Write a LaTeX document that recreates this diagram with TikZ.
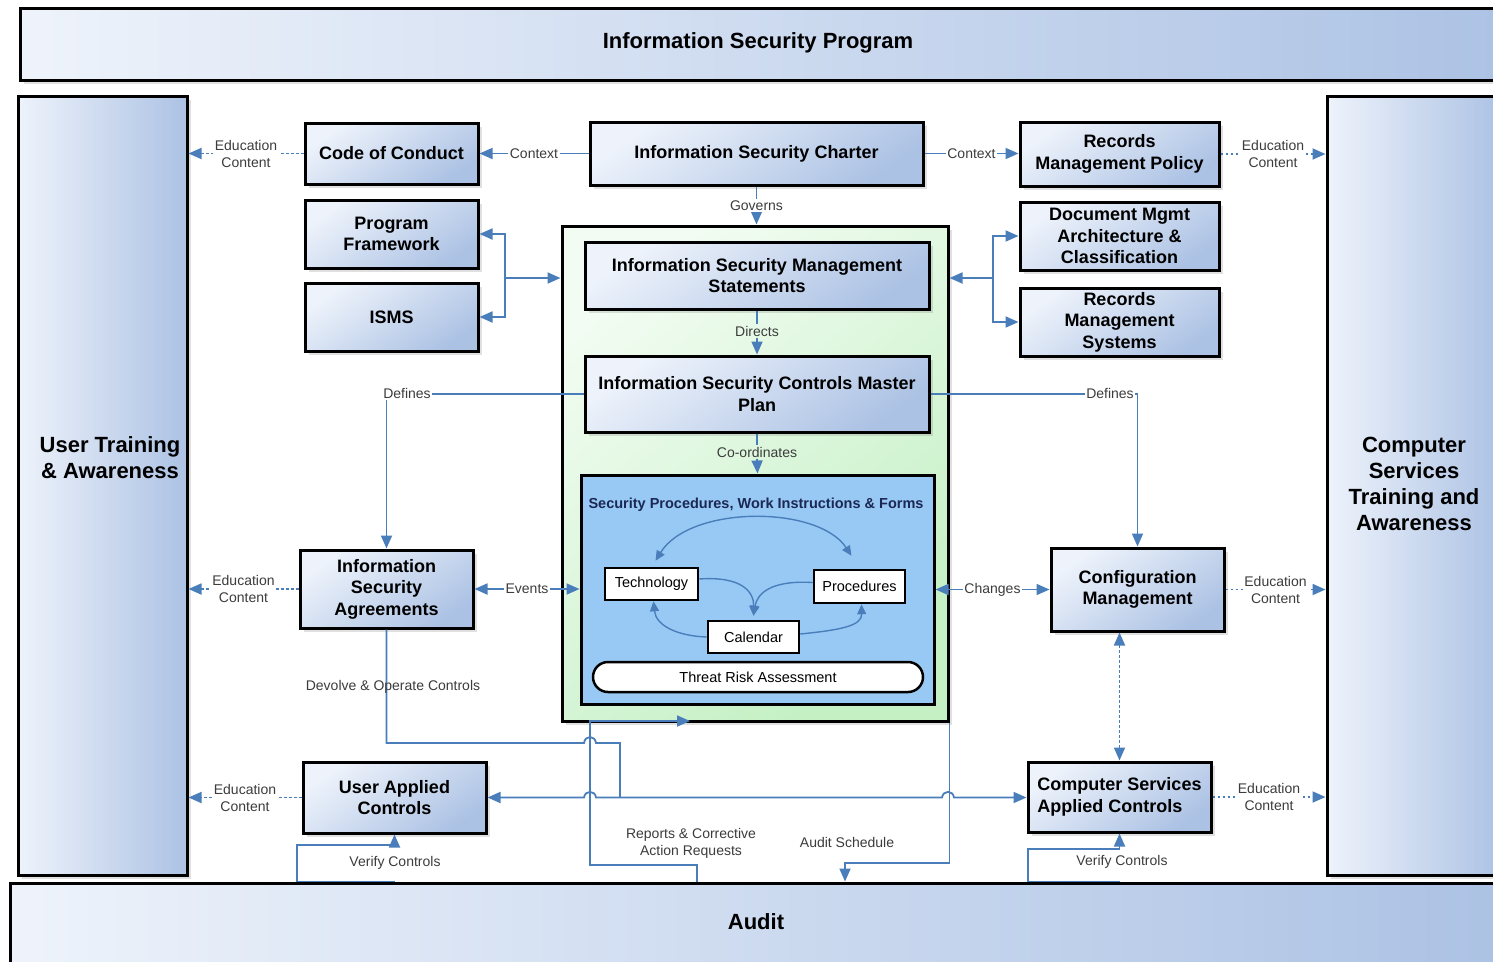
\documentclass[tikz,border=0pt]{standalone}
\usepackage{fontspec}
\setmainfont{Liberation Sans}
\usetikzlibrary{arrows.meta,calc,shadows}

\definecolor{linkblue}{RGB}{74,126,187}
\definecolor{boxlight}{RGB}{238,243,251}
\definecolor{boxdark}{RGB}{172,194,228}
\definecolor{greenlight}{RGB}{242,252,242}
\definecolor{greendark}{RGB}{196,240,196}
\definecolor{procblue}{RGB}{152,201,245}
\definecolor{labelgrey}{RGB}{60,60,60}
\definecolor{titlenavy}{RGB}{28,40,84}

\tikzset{
  softshadow/.style={drop shadow={shadow xshift=4pt,shadow yshift=-4pt,opacity=0.2,fill=black!60}},
  unitbox/.style={draw=black, line width=3pt, softshadow, align=center, inner sep=2pt,
    font=\fontsize{18}{21.5}\selectfont\bfseries,
    top color=boxlight, bottom color=boxdark, shading angle=35},
  band/.style={draw=black, line width=3pt, softshadow,
    left color=boxlight, right color=boxdark},
  bandtext/.style={font=\fontsize{22}{26}\selectfont\bfseries, align=center},
  innerbox/.style={draw=black, line width=2.5pt, fill=white, inner sep=1pt,
    font=\fontsize{14.5}{17}\selectfont},
  link/.style={draw=linkblue, line width=1.8pt},
  edu/.style={link, dash pattern=on 2.5pt off 2.5pt, ->},
  curl/.style={draw=linkblue, line width=1.4pt, >={Triangle[length=10pt,width=9pt]}},
  lbl/.style={font=\fontsize{14}{17}\selectfont, text=labelgrey, align=center, inner sep=1.5pt}
}

\begin{document}
\begin{tikzpicture}[x=1pt, y=-1pt, >={Triangle[length=13pt,width=11pt]}]
\fill[white] (0,0) rectangle (1493,961);
\useasboundingbox (0,0) rectangle (1493,961);

% outer bands
\node[band, minimum width=1500pt, minimum height=72pt] (prog) at (770,44) {};
\node[bandtext] (progtext) at (758,43) {Information Security Program};

\node[band, minimum width=169pt, minimum height=779pt] (utr) at (102.5,485.5) {};
\node[bandtext] (utrtext) at (110,458) {User Training\\\& Awareness};

\node[band, minimum width=174pt, minimum height=779pt] (cst) at (1414,485.5) {};
\node[bandtext] (csttext) at (1414,484) {Computer\\Services\\Training and\\Awareness};

\node[band, minimum width=1492pt, minimum height=92pt] (audit) at (756,929) {};
\node[bandtext] (audittext) at (756,922) {Audit};

% policy level
\node[unitbox, minimum width=173pt, minimum height=61pt] (coc) at (391.5,153.5) {Code of Conduct};
\node[unitbox, minimum width=173pt, minimum height=68pt] (pf) at (391.5,234) {Program\\Framework};
\node[unitbox, minimum width=173pt, minimum height=68pt] (isms) at (391.5,317) {ISMS};
\node[unitbox, minimum width=333pt, minimum height=63pt] (charter) at (756.5,153.5) {Information Security Charter};
\node[unitbox, minimum width=199pt, minimum height=64pt] (rmp) at (1119.5,154) {Records\\Management Policy};
\node[unitbox, minimum width=199pt, minimum height=68pt] (dmac) at (1119.5,236) {Document Mgmt\\Architecture \&\\Classification};
\node[unitbox, minimum width=199pt, minimum height=68pt] (rms) at (1119.5,322) {Records\\Management\\Systems};

% core container
\node[draw=black, line width=3pt, softshadow, minimum width=386pt, minimum height=495pt,
      top color=greenlight, bottom color=greendark, shading angle=40] (core) at (755,473.5) {};
\node[unitbox, minimum width=344pt, minimum height=67pt] (stmt) at (757,275.5) {Information Security Management\\Statements};
\node[unitbox, minimum width=344pt, minimum height=76pt] (plan) at (757,394) {Information Security Controls Master\\Plan};
\node[draw=black, line width=3pt, fill=procblue, minimum width=353pt, minimum height=229pt] (proc) at (757.5,589.5) {};
\node[font=\fontsize{14.5}{17}\selectfont\bfseries, text=titlenavy] (proctitle) at (756,505) {Security Procedures, Work Instructions \& Forms};
\node[innerbox, minimum width=93pt, minimum height=32pt] (tech) at (651.5,584) {Technology};
\node[innerbox, minimum width=91pt, minimum height=33pt] (procs) at (859.5,586.5) {Procedures};
\node[innerbox, minimum width=91pt, minimum height=32pt] (cal) at (753.5,637) {Calendar};
\node[innerbox, rounded corners=15pt, minimum width=330pt, minimum height=30pt] (tra) at (758,677) {Threat Risk Assessment};

% operational level
\node[unitbox, minimum width=173pt, minimum height=78pt] (isa) at (386.5,589) {Information\\Security\\Agreements};
\node[unitbox, minimum width=173pt, minimum height=83pt] (cm) at (1137.5,589.5) {Configuration\\Management};
\node[unitbox, minimum width=183pt, minimum height=71pt] (uac) at (394.5,797.5) {User Applied\\Controls};
\node[unitbox, minimum width=183pt, minimum height=70pt, align=left] (csac) at (1119.5,797) {Computer Services\\Applied Controls};

% context and governance
\draw[link,->] (charter.west) -- (coc.east) node[lbl, midway, fill=white] {Context};
\draw[link,->] (charter.east) -- (charter.east -| rmp.west) node[lbl, midway, fill=white] {Context};
\draw[link,->] (charter.south) -- (charter.south |- core.north) node[lbl, midway, fill=white] {Governs};

\node[lbl] (dirlbl) at (757,331) {Directs};
\draw[link] (stmt.south) -- (dirlbl.north);
\draw[link,->] (dirlbl.south) -- (plan.north);
\node[lbl] (coordlbl) at (757,452) {Co-ordinates};
\draw[link] (plan.south) -- (coordlbl.north);
\draw[link,->] (coordlbl.south) -- (proc.north);

% education content
\draw[edu] (coc.west) -- (coc.west -| utr.east) node[lbl, midway, fill=white] {Education\\Content};
\draw[edu] (isa.west) -- (isa.west -| utr.east) node[lbl, midway, fill=white] {Education\\Content};
\draw[edu] (uac.west) -- (uac.west -| utr.east) node[lbl, midway, fill=white] {Education\\Content};
\draw[edu] (rmp.east) -- (rmp.east -| cst.west) node[lbl, midway, fill=white] {Education\\Content};
\draw[edu] (cm.east) -- (cm.east -| cst.west) node[lbl, midway, fill=white] {Education\\Content};
\draw[edu] (csac.east) -- (csac.east -| cst.west) node[lbl, midway, fill=white] {Education\\Content};

% framework brackets
\coordinate (jl) at (505,278);
\draw[link,->] (jl) -- (jl -| core.west);
\draw[link,->] (jl) |- (pf.east);
\draw[link,->] (jl) |- (isms.east);
\coordinate (jr) at (993,278);
\draw[link,->] (jr) -- (jr -| core.east);
\draw[link,->] (jr) |- (dmac.west);
\draw[link,->] (jr) |- (rms.west);

% defines
\draw[link,->] (plan.west) -| (isa.north);
\node[lbl, fill=white] (defl) at (407,393) {Defines};
\draw[link,->] (plan.east) -| (cm.north);
\node[lbl, fill=white] (defr) at (1110,393) {Defines};

% events and changes
\draw[link,<->] (isa.east) -- (isa.east -| proc.west) node[lbl, midway, fill=white] {Events};
\draw[link,<->] (proc.east) -- (proc.east -| cm.west) node[lbl, midway, fill=white] {Changes};
\draw[link, dash pattern=on 2.5pt off 2.5pt, <->] (csac.north |- cm.south) -- (csac.north);

% procedure cycle
\draw[curl,<->] ($(tech.north)+(4,-6)$) .. controls (690,505) and (818,505) .. ($(procs.north)+(-8,-13)$);
\draw[curl,->] ($(tech.east)+(0,-5)$) .. controls (742,576) and (754,592) .. ($(cal.north)+(0,-4)$);
\draw[curl,->] ($(procs.west)+(0,-4)$) .. controls (770,580) and (757,594) .. ($(cal.north)+(0,-4)$);
\draw[curl,->] (cal.west) .. controls (678,636) and (656,626) .. ($(tech.south)+(2,0)$);
\draw[curl,->] ($(cal.east)+(0,-3)$) .. controls (840,630) and (862,626) .. ($(procs.south)+(2,0)$);

% verification
\coordinate (vl) at (297,845);
\draw[link,->] (uac.south |- audit.north) -| (vl) -- (vl -| uac.south) -- (uac.south);
\node[lbl] (verl) at (395,863) {Verify Controls};
\coordinate (vr) at (1028,849);
\draw[link,->] (csac.south |- audit.north) -| (vr) -- (vr -| csac.south) -- (csac.south);
\node[lbl] (verr) at (1122,862) {Verify Controls};

% devolve and operate controls
\coordinate (dv) at (620,743);
\draw[link] (isa.south) |- (584,743) .. controls (585,735) and (595,735) .. (596,743) -- (dv) -- (dv |- uac.east);
\draw[link,<->] (uac.east) -- (584,797.5) .. controls (585,790) and (595,790) .. (596,797.5)
   -- (942,797.5) .. controls (943,790) and (953,790) .. (954,797.5) -- (954,797.5 -| csac.west);
\node[lbl] (devlbl) at (393,687) {Devolve \& Operate Controls};

% reports and audit schedule
\coordinate (rep) at (697,865);
\coordinate (repend) at (690,721);
\draw[link,->] (rep |- audit.north) -- (rep) -| (590,721) -- (repend);
\node[lbl] (replbl) at (691,843) {Reports \& Corrective\\Action Requests};
\coordinate (sched) at (845,863);
\draw[link,->] (core.south east) |- (sched) -- (sched |- audit.north);
\node[lbl] (schedlbl) at (847,842) {Audit Schedule};
\end{tikzpicture}
\end{document}
